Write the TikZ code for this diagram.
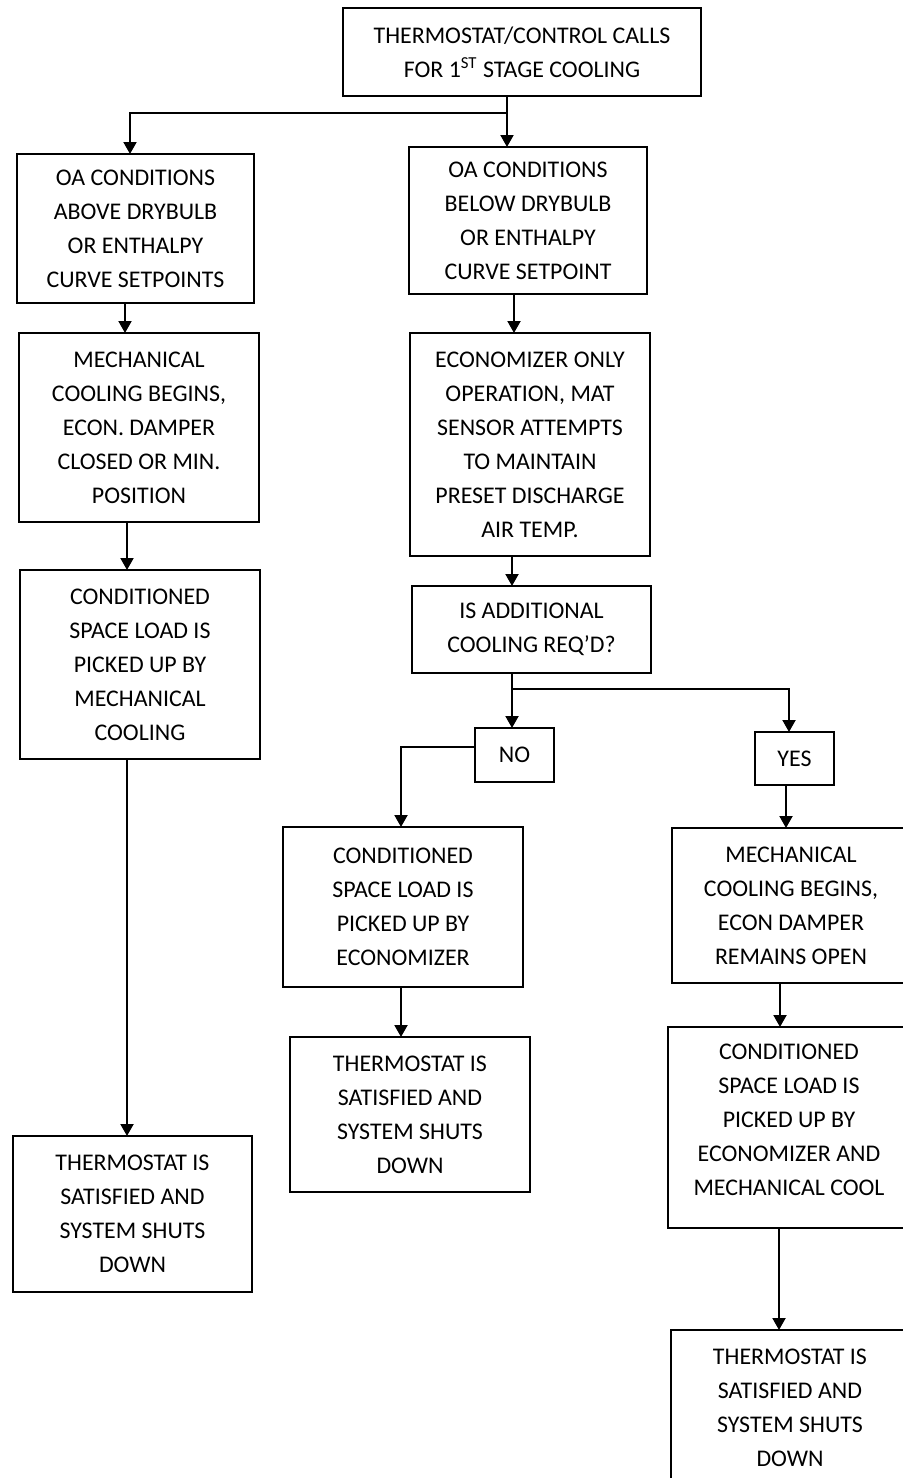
\documentclass[tikz,border=0pt]{standalone}
\usepackage{fontspec}
\setmainfont{Carlito}
\usetikzlibrary{arrows.meta,calc}
\newcommand\bx[6]{\node[boxst, minimum width={(#4-#2)*0.5pt}, minimum height={(#5-#3)*0.5pt}] (#1) at ({(#2+#4)/2},{(#3+#5)/2}) {#6};}
\begin{document}
\begin{tikzpicture}[x=0.5pt,y=-0.5pt,
  boxst/.style={draw=black, line width=0.65pt, fill=white, inner sep=0pt, outer sep=0pt, align=center, font=\fontsize{11.95pt}{17pt}\selectfont},
  txtst/.style={inner sep=0pt, outer sep=0pt, align=center, font=\fontsize{11.95pt}{17pt}\selectfont},
  conn/.style={line width=1pt, black},
  arr/.style={conn, -{Triangle[length=6pt,width=6.5pt]}}]
\useasboundingbox (0,0) rectangle (903,1478);
\fill[white] (0,0) rectangle (903,1478);
\clip (0,0) rectangle (903,1478);
% boxes
\bx{t}{343}{8}{701}{96}{THERMOSTAT/CONTROL CALLS\\FOR 1\textsuperscript{ST} STAGE COOLING}
\bx{a1}{17}{154}{254}{303}{OA CONDITIONS\\ABOVE DRYBULB\\OR ENTHALPY\\CURVE SETPOINTS}
\bx{a2}{19}{333}{259}{522}{MECHANICAL\\COOLING BEGINS,\\ECON. DAMPER\\CLOSED OR MIN.\\POSITION}
\bx{a3}{20}{570}{260}{759}{CONDITIONED\\SPACE LOAD IS\\PICKED UP BY\\MECHANICAL\\COOLING}
\bx{a4}{13}{1136}{252}{1292}{THERMOSTAT IS\\SATISFIED AND\\SYSTEM SHUTS\\DOWN}
\bx{b1}{409}{147}{647}{294}{OA CONDITIONS\\BELOW DRYBULB\\OR ENTHALPY\\CURVE SETPOINT}
\bx{b2}{410}{333}{650}{556}{ECONOMIZER ONLY\\OPERATION, MAT\\SENSOR ATTEMPTS\\TO MAINTAIN\\PRESET DISCHARGE\\AIR TEMP.}
\bx{b3}{412}{586}{651}{673}{IS ADDITIONAL\\COOLING REQ’D?}
\bx{no}{475}{728}{554}{782}{NO}
\bx{yes}{755}{732}{834}{785}{YES}
\bx{c1}{283}{827}{523}{987}{CONDITIONED\\SPACE LOAD IS\\PICKED UP BY\\ECONOMIZER}
\bx{c2}{290}{1037}{530}{1192}{THERMOSTAT IS\\SATISFIED AND\\SYSTEM SHUTS\\DOWN}
\bx{d1}{672}{828}{910}{983}{MECHANICAL\\COOLING BEGINS,\\ECON DAMPER\\REMAINS OPEN}
\bx{d2}{668}{1027}{910}{1228}{}
\node[txtst] (d2t) at ($(d2.center)+(0,-7.5)$) {CONDITIONED\\SPACE LOAD IS\\PICKED UP BY\\ECONOMIZER AND\\MECHANICAL COOL};
\bx{d3}{671}{1330}{909}{1486}{THERMOSTAT IS\\SATISFIED AND\\SYSTEM SHUTS\\DOWN}
% connector columns
\coordinate (xT) at (507,0);
\coordinate (xA1) at (130,0);
\coordinate (xA12) at (125,0);
\coordinate (xA23) at (127,0);
\coordinate (xB12) at (514,0);
\coordinate (xB23) at (512,0);
\coordinate (xYES) at (789,0);
\coordinate (xC) at (401,0);
\coordinate (xD1) at (786,0);
\coordinate (xD12) at (780,0);
\coordinate (xD23) at (779,0);
\coordinate (ys1) at (0,113);
\coordinate (ys2) at (0,689);
\coordinate (yno) at (0,747);
% connectors
\draw[arr] (t.south -| xT) -- (b1.north -| xT);
\draw[arr] (xT |- ys1) -| (a1.north -| xA1);
\draw[arr] (a1.south -| xA12) -- (a2.north -| xA12);
\draw[arr] (a2.south -| xA23) -- (a3.north -| xA23);
\draw[arr] (a3.south -| xA23) -- (a4.north -| xA23);
\draw[arr] (b1.south -| xB12) -- (b2.north -| xB12);
\draw[arr] (b2.south -| xB23) -- (b3.north -| xB23);
\draw[arr] (b3.south -| xB23) -- (no.north -| xB23);
\draw[arr] (xB23 |- ys2) -| (yes.north -| xYES);
\draw[arr] (no.west |- yno) -| (c1.north -| xC);
\draw[arr] (yes.south -| xD1) -- (d1.north -| xD1);
\draw[arr] (c1.south -| xC) -- (c2.north -| xC);
\draw[arr] (d1.south -| xD12) -- (d2.north -| xD12);
\draw[arr] (d2.south -| xD23) -- (d3.north -| xD23);
\end{tikzpicture}
\end{document}
